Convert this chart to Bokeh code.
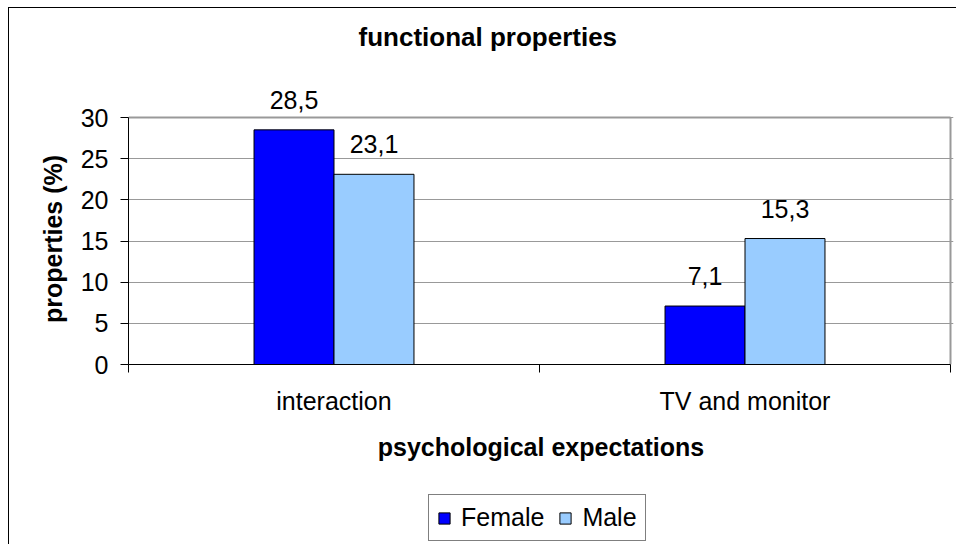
import math
from bokeh.plotting import figure
from bokeh.layouts import column, row
from bokeh.models import (Range1d, FixedTicker, Legend, LegendItem, ColumnDataSource, Label)
from bokeh.transform import dodge
from bokeh.core.properties import value
from bokeh.embed import file_html
from bokeh.resources import INLINE

# ---- data ----
categories = ["interaction", "TV and monitor"]
female = [28.5, 7.1]
male = [23.1, 15.3]
series_names = ["Female", "Male"]
series_colors = ["#0000FF", "#99CCFF"]
y_ticks = [0, 5, 10, 15, 20, 25, 30]
title_text = "functional properties"
x_label = "psychological expectations"
y_label = "properties (%)"

FONT = "Liberation Sans"
FS = "25px"
BAR_W = 0.1946
Y_MAX = y_ticks[-1]
N = len(categories)

# ---- geometry (px) ----
TOTAL_W = 947
YLAB_W = 60
MAIN_W = TOTAL_W - YLAB_W
MAIN_H = 470
LEG_H = 66
LEFT, RIGHT, TOP, BOTTOM = 59, 3, 10, 114
FRAME_W = MAIN_W - LEFT - RIGHT
FRAME_H = MAIN_H - TOP - BOTTOM
AXIS_H = 247          # pixels from 0 to Y_MAX
CAT_W = 822           # pixels covered by all categories

xs = [i + 0.5 for i in range(N)]
src = ColumnDataSource(dict(
    x=xs,
    female=female,
    male=male,
    female_lbl=[f"{v:.1f}".replace(".", ",") for v in female],
    male_lbl=[f"{v:.1f}".replace(".", ",") for v in male],
))

# ---------------- main chart ----------------
p = figure(width=MAIN_W, height=MAIN_H, output_backend="svg", toolbar_location=None,
           x_range=Range1d(0, N * FRAME_W / CAT_W),
           y_range=Range1d(0, Y_MAX * FRAME_H / AXIS_H),
           min_border_left=LEFT, min_border_top=TOP, min_border_bottom=BOTTOM,
           min_border_right=RIGHT)
p.xgrid.grid_line_color = None
p.ygrid.grid_line_color = "#999999"
p.ygrid.grid_line_width = 1
p.outline_line_color = None
p.background_fill_color = "white"
p.border_fill_color = "white"
# plot-area border (top and right)
p.segment(x0=[N], y0=[0], x1=[N], y1=[Y_MAX], line_color="#999999", line_width=2)
p.segment(x0=[0], y0=[Y_MAX], x1=[N], y1=[Y_MAX], line_color="#999999", line_width=2)

r_f = p.vbar(x=dodge("x", -BAR_W / 2, range=p.x_range), top="female", width=BAR_W,
             source=src, fill_color=series_colors[0], line_color="black", line_width=1)
r_m = p.vbar(x=dodge("x", BAR_W / 2, range=p.x_range), top="male", width=BAR_W,
             source=src, fill_color=series_colors[1], line_color="black", line_width=1)

for col, lbl, off in (("female", "female_lbl", -BAR_W / 2), ("male", "male_lbl", BAR_W / 2)):
    p.text(x=dodge("x", off, range=p.x_range), y=col, text=lbl, source=src,
           text_align="center", text_baseline="alphabetic", y_offset=-30,
           text_font=value(FONT), text_font_size=FS, text_color="black")

p.add_layout(Label(x=230, y=328, x_units="screen", y_units="screen", text=title_text,
                   text_font=FONT, text_font_size="26px", text_font_style="bold",
                   text_color="black", text_align="left", text_baseline="alphabetic"))

xa = p.xaxis[0]
xa.bounds = (0, N)
xa.ticker = FixedTicker(ticks=xs, minor_ticks=list(range(N + 1)))
xa.major_label_overrides = {x: c for x, c in zip(xs, categories)}
xa.major_tick_line_color = None
xa.major_tick_out = 0
xa.major_tick_in = 0
xa.minor_tick_out = 8
xa.minor_tick_in = 0
xa.minor_tick_line_color = "black"
xa.major_label_standoff = 14
xa.axis_label = x_label
xa.axis_label_standoff = 15
xa.axis_label_text_font = FONT
xa.axis_label_text_font_size = FS
xa.axis_label_text_font_style = "bold"
xa.axis_label_text_color = "black"
xa.major_label_text_font = FONT
xa.major_label_text_font_size = FS
xa.major_label_text_color = "black"
xa.axis_line_color = "black"

ya = p.yaxis[0]
ya.bounds = (0, Y_MAX)
ya.ticker = FixedTicker(ticks=y_ticks)
ya.major_tick_out = 8
ya.major_tick_in = 0
ya.minor_tick_line_color = None
ya.major_label_standoff = 12
ya.major_label_text_font = FONT
ya.major_label_text_font_size = FS
ya.major_label_text_color = "black"
ya.axis_line_color = "black"

# ---------------- y-axis title strip ----------------
py = figure(width=YLAB_W, height=MAIN_H, output_backend="svg", toolbar_location=None,
            x_range=Range1d(0, 1), y_range=Range1d(0, 1),
            x_axis_type=None, y_axis_type=None,
            min_border_left=0, min_border_right=0, min_border_top=0, min_border_bottom=0)
py.outline_line_color = None
py.xgrid.grid_line_color = None
py.ygrid.grid_line_color = None
# frame of this strip is aligned with the main frame (bottom at the x axis)
py.add_layout(Label(x=43, y=(MAIN_H - BOTTOM) - 230.5, x_units="screen", y_units="screen",
                    text=y_label, angle=math.pi / 2,
                    text_font=FONT, text_font_size=FS, text_font_style="bold",
                    text_color="black", text_align="center", text_baseline="middle"))

# ---------------- legend strip ----------------
pl = figure(width=TOTAL_W, height=LEG_H, output_backend="svg", toolbar_location=None,
            x_range=Range1d(-3, -2), y_range=Range1d(-3, -2),
            x_axis_type=None, y_axis_type=None,
            min_border_left=0, min_border_right=0, min_border_top=0, min_border_bottom=0)
pl.outline_line_color = None
pl.xgrid.grid_line_color = None
pl.ygrid.grid_line_color = None
# legend glyph renderers (their bars fall outside this strip's visible ranges)
leg_r = [pl.vbar(x="x", top=c, width=BAR_W, source=src, fill_color=clr,
                 line_color="black", line_width=1)
         for c, clr in zip(("female", "male"), series_colors)]
legend = Legend(items=[LegendItem(label=n, renderers=[r]) for n, r in zip(series_names, leg_r)],
                orientation="horizontal", location=(419, 3),
                border_line_color="black", border_line_width=1,
                background_fill_color="white", background_fill_alpha=1,
                padding=8, spacing=14, label_standoff=10,
                glyph_width=14, glyph_height=14, margin=0,
                label_text_font=FONT, label_text_font_size=FS,
                label_text_color="black")
pl.add_layout(legend, "center")

layout = column(row(py, p), pl)
layout.styles = {"margin-left": "8px", "margin-top": "7px",
                 "border-left": "1px solid black", "border-top": "1px solid black"}

open("out.html", "w").write(file_html(layout, INLINE))
